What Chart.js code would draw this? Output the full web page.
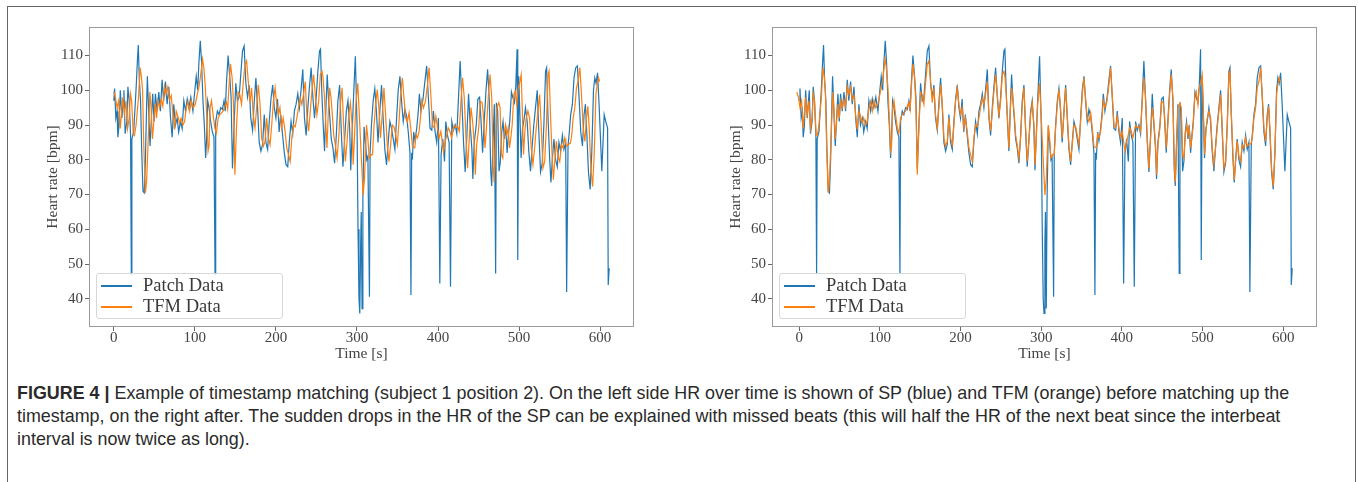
<!DOCTYPE html>
<html>
<head>
<meta charset="utf-8">
<script src="https://cdn.jsdelivr.net/npm/chart.js@4"></script>
<style>
html,body{margin:0;padding:0;background:#fff;width:1358px;height:482px;overflow:hidden;}
#frame{position:absolute;left:7px;top:6px;width:1349px;height:480px;border:1px solid #666;border-bottom:none;box-sizing:border-box;}
.pane{position:absolute;top:0;height:375px;}
.pane canvas{position:absolute;left:0;top:0;}
.legend{position:absolute;top:273px;height:46px;background:rgba(255,255,255,0.8);border:1px solid #d8d8d8;border-radius:3px;box-sizing:border-box;font-family:"Liberation Serif","DejaVu Serif",serif;font-size:18.5px;color:#3a3a3a;}
.legend .item{position:absolute;left:0;height:21px;}
.legend .swatch{position:absolute;left:4px;width:31px;height:1.5px;}
.legend .lbl{position:absolute;left:46px;white-space:nowrap;line-height:21px;top:0;}
#caption{position:absolute;left:17px;top:382px;font-family:"Liberation Sans",Arial,sans-serif;font-size:15px;line-height:23px;color:#2a2a2a;white-space:nowrap;}
#caption b{font-weight:bold;}
</style>
</head>
<body>
<div id="frame"></div>
<div class="pane" id="p1" style="left:0;width:679px;"><canvas id="c1" width="679" height="375"></canvas></div>
<div class="pane" id="p2" style="left:680px;width:678px;"><canvas id="c2" width="678" height="375"></canvas></div>
<div id="caption"><span id="capL1"><b>FIGURE 4 |</b> Example of timestamp matching (subject 1 position 2). On the left side HR over time is shown of SP (blue) and TFM (orange) before matching up the</span><br><span>timestamp, on the right after. The sudden drops in the HR of the SP can be explained with missed beats (this will half the HR of the next beat since the interbeat</span><br><span>interval is now twice as long).</span></div>
<script>
// ---------- DATA ----------
const xTickValues = [0, 100, 200, 300, 400, 500, 600];
const yTickValues = [40, 50, 60, 70, 80, 90, 100, 110];

const patchTime = [
0,1,2.5,4,5,6.5,8,10,11.5,12.5,
14,16,17.4,19,20.7,21.6,22.3,24.5,27.4,29,
30.2,31.5,33,34.5,36,37.5,39,40.5,41.4,43,
44.7,46.4,48,49.7,51.3,53.4,55.5,57.5,59.6,61.5,
63.7,65.8,67.9,70,72,74,76,78.2,80,82.3,
84.3,86.4,88.5,90.6,92.6,95,97.6,100,101.7,103.5,
105,106.7,108.3,110,111.7,113.3,114.5,115.8,117.5,119.5,
121.6,123.6,124.9,125.7,127.8,129.8,131.9,134,136,137.5,
139,141,143,144.7,146.4,148.4,150.5,152.5,154.6,156.5,
158.8,160.8,162.9,165,167,169,171.2,173.2,175.3,177.4,
179.4,181.5,183.6,185.6,187.7,189.8,191.8,193.9,196,198,
200,202,204,206,208.3,210.4,212.5,214.6,216.6,218.7,
220.8,222.8,224.9,227,229,231,233.2,235.2,237.3,239.4,
241.4,243.5,245.6,247.6,249.7,251.8,253.8,255,256.7,258.4,
260,261.7,263.3,265,266.6,268.3,270.3,272.4,274.5,276.5,
278.6,280.7,282.7,284.8,286.9,288.9,291,292.3,293.9,295.6,
298,300.1,301.3,302.5,303.5,304.6,305.3,306.3,307.3,308.8,
310.4,312.1,313.5,315.4,316.2,317.9,320,322,324,326,
328.2,330.3,332.3,334.4,336.5,338.5,340.6,342.7,344.7,346.8,
348.9,350.9,353,355,357.1,359.2,361.3,363.3,365.4,366.6,
367.5,368.3,370,371.6,373.7,375.7,377,379,381.5,384,
386,388.1,390.2,392.3,394.3,396.4,398.4,400.5,402.2,403.8,
405.9,408,409.6,411.7,413.7,415.4,417,419.1,421.2,423.2,
425.3,427.3,429.4,431.5,433.5,435.6,437.7,439.7,441.8,443,
444.7,447.2,449.2,451.3,452.9,455,457,459.2,461.2,463.3,
465,466.2,467.8,469.5,471.1,472,473.6,475.3,476.9,478.6,
480.2,481.9,483.5,485.2,486.8,488.5,490.6,492.2,494.3,495.9,
497.6,498.4,499.6,500.9,502.5,504.2,505.8,507.9,510,512,
514.1,516.2,518.2,520.3,522.4,524.4,526.5,528.6,530.6,532.7,
534,535.6,537.7,539.3,541,543,545.1,547.2,549.2,551.3,
553.4,555.4,557.5,558.7,560.4,562,563.7,565.8,567.8,569.9,
572,574,576.1,578.2,580.2,581.9,583.5,585.6,587.7,589.7,
591.8,593.4,595,596.8,598.8,602.1,605,607,609.2,610,
611.2];

const patchHR = [
97,100.5,92,94,86.5,90,100,92,97,100,
87.5,91,101,97,87,47,86,88,100,108,
113,103,97,82,71,70.5,80,96,104,94,
84,92,99,91,99,94,99.5,94,103,97,
102.5,96,101,92,86.5,96,90,92,88,91,
89,97,94,97.5,95,98,94,100,104,100,
108,114.2,108,97,90,80.5,86,97,95,91,
88,86.5,47,91,94,93,95,94.5,97,94,
102,110,104,98,77.5,90,102,97,98,104,
111.3,112.7,102,98,101.5,92,88.5,96.5,103.5,95,
85,82.5,84.5,93,85,83,91,97.5,101.5,95,
92,97.5,88,93,87,82,78.6,78,85.5,91,
87.5,94,96,99,95,100,106,92,87,95,
101,106.5,98,92,98,105.5,111.3,111.8,99,90,
82.5,95,104.5,97,92,86,83.5,79,87,97,
101.5,88,78,86,94,97,89,77,87,97,
109.8,90,60,40,35.8,56,65,37.2,69,89.5,
85,80,81,40.6,82,90,97,100.5,94,85,
94,101.5,92,83,78.5,85,91,89,86,83,
92,100,104,97,91,94.5,92.5,88,82,41.1,
82,80,88,85.5,89,94,99,94,97.5,103,
107,98,89,88.5,94,88,85,92,44.4,81.5,
86,79.5,91,87,85,43.5,91,88.5,90,87.5,
98,108.4,97,85,76.5,87,99,90,83,74.5,
85,90,97.5,98,92,82,91,100,106,97,
77,72.5,85,96,47.3,96.4,94,76.7,79.5,88,
91,86,90,82,87,91,99.5,98,96.5,101,
111.8,51.2,104,94,80.5,89,91,95,91,82.5,
76.7,84,90,95,100,88,76.5,79,90,105.5,
106.5,93,80.5,73.5,80,86,80,78,85,82.5,
87,83,85,42,84,88,93,96,103.6,106.5,
107,98,88,84,93,96,88,76.5,71.5,82,
100,103.6,102,105,95.5,76.7,93,91,89.2,44,
48.8];

// TFM timestamps before matching (left panel)
const tfmTimeRaw = [
0,2,4,6,8,11,13,15,17,19,
20.5,22,24,25.5,27.5,30.5,32.5,34,35.5,37,
39,40.5,43,44.5,46,47.7,49.4,51,52.7,54.3,
56.4,58.5,60.5,62.6,64.5,66.7,68.8,70.9,73,75,
77,79,81.2,83,85.3,87.3,89.4,91.5,93.6,95.6,
98,100.6,103,105,107,109.5,111.3,113,114.7,116.3,
117.5,118.8,120.5,122.5,124.6,126.6,128.7,130.8,132.8,134.9,
137,139,140.5,142,144,146,147.7,149.4,151.4,153.5,
155.5,157.6,159.5,161.8,163.8,165.9,168,170,172,174.2,
176.2,178.3,180.4,182.4,184.5,186.6,188.6,190.7,192.8,194.8,
196.9,199,201,203,205,207,209,211.3,213.4,215.5,
217.6,219.6,221.7,223.8,225.8,227.9,230,232,234,236.2,
238.2,240.3,242.4,244.4,246.5,248.6,250.6,252.7,254.8,256.8,
258,259.7,261.4,263,264.7,266.3,268,269.6,271.3,273.3,
275.4,277.5,279.5,281.6,283.7,285.7,287.8,289.9,291.9,294,
295.3,296.9,298.6,301,303.1,305.2,307.6,309.3,311.8,313.4,
315.1,317.6,319.2,320.9,323,325,327,329,331.2,333.3,
335.3,337.4,339.5,341.5,343.6,345.7,347.7,349.8,351.9,353.9,
356,358,360.1,362.2,364.3,366.3,368.4,371.3,373,374.6,
376.7,378.7,380,382,384.5,387,389,391.1,393.2,395.3,
397.3,399.4,401.4,403.5,406.8,408.9,411,412.6,414.7,416.7,
420,422.1,424.2,426.2,428.3,430.3,432.4,434.5,436.5,438.6,
440.7,442.7,444.8,446,447.7,450.2,452.2,454.3,455.9,458,
460,462.2,464.2,466.3,468,469.2,470.8,472.5,475,476.6,
478.3,479.9,481.6,483.2,484.9,486.5,488.2,489.8,491.5,493.6,
495.2,497.3,498.9,500.6,502.6,503.9,505.5,507.2,508.8,510.9,
513,515,517.1,519.2,521.2,523.3,525.4,527.4,529.5,531.6,
533.6,535.7,537,538.6,540.7,542.3,544,546,548.1,550.2,
552.2,554.3,556.4,558.4,560.5,563.4,565,566.7,568.8,570.8,
572.9,575,577,579.1,581.2,583.2,584.9,586.5,588.6,590.7,
592.7,594.8,596.4,598,599.5];

// TFM timestamps after matching (right panel)
const tfmTimeMatched = [
-3,-1,1,3,5,8,10,12,14,16,
17.5,19,21,22.5,24.5,27.5,29.5,31,32.5,34,
36,37.5,40,41.5,43,44.7,46.4,48,49.7,51.3,
53.4,55.5,57.5,59.6,61.5,63.7,65.8,67.9,70,72,
74,76,78.2,80,82.3,84.3,86.4,88.5,90.6,92.6,
95,97.6,100,102,104,106.5,108.3,110,111.7,113.3,
114.5,115.8,117.5,119.5,121.6,123.6,125.7,127.8,129.8,131.9,
134,136,137.5,139,141,143,144.7,146.4,148.4,150.5,
152.5,154.6,156.5,158.8,160.8,162.9,165,167,169,171.2,
173.2,175.3,177.4,179.4,181.5,183.6,185.6,187.7,189.8,191.8,
193.9,196,198,200,202,204,206,208.3,210.4,212.5,
214.6,216.6,218.7,220.8,222.8,224.9,227,229,231,233.2,
235.2,237.3,239.4,241.4,243.5,245.6,247.6,249.7,251.8,253.8,
255,256.7,258.4,260,261.7,263.3,265,266.6,268.3,270.3,
272.4,274.5,276.5,278.6,280.7,282.7,284.8,286.9,288.9,291,
292.3,293.9,295.6,298,300.1,302.2,304.6,306.3,308.8,310.4,
312.1,314.6,316.2,317.9,320,322,324,326,328.2,330.3,
332.3,334.4,336.5,338.5,340.6,342.7,344.7,346.8,348.9,350.9,
353,355,357.1,359.2,361.3,363.3,365.4,368.3,370,371.6,
373.7,375.7,377,379,381.5,384,386,388.1,390.2,392.3,
394.3,396.4,398.4,400.5,403.8,405.9,408,409.6,411.7,413.7,
417,419.1,421.2,423.2,425.3,427.3,429.4,431.5,433.5,435.6,
437.7,439.7,441.8,443,444.7,447.2,449.2,451.3,452.9,455,
457,459.2,461.2,463.3,465,466.2,467.8,469.5,472,473.6,
475.3,476.9,478.6,480.2,481.9,483.5,485.2,486.8,488.5,490.6,
492.2,494.3,495.9,497.6,499.6,500.9,502.5,504.2,505.8,507.9,
510,512,514.1,516.2,518.2,520.3,522.4,524.4,526.5,528.6,
530.6,532.7,534,535.6,537.7,539.3,541,543,545.1,547.2,
549.2,551.3,553.4,555.4,557.5,560.4,562,563.7,565.8,567.8,
569.9,572,574,576.1,578.2,580.2,581.9,583.5,585.6,587.7,
589.7,591.8,593.4,595,596.5];

const tfmHR = [
99.5,98,95,97,89,98,93,97,89,92,
99,97,87.5,87,90,98,106.5,104,100,84,
70.5,74,89,99.5,95,86,91,96,92,97,
95,97.3,95.4,101,98.8,101,97.3,98.5,93,88.7,
94,92.5,90.6,92,90,91,95,96.8,94,97,
95,96,98.8,101,104,109,106,100.7,92,82.5,
84,95,97,93,89.2,87.7,92,93,93.5,94,
95.4,96.5,94.5,100.7,107.5,103.6,96,75.7,89.2,99.5,
98.8,96,101.6,107.5,108.5,102.6,96.4,100.7,93,89.2,
95,101.6,96,86.3,83.9,85.3,92,86.3,84.3,90,
96.8,100.7,96,93,95,89.2,92,88.2,83.4,81.5,
79.5,86.3,90,89.5,92,95,97.8,95.9,98.8,102.5,
93,88.2,94,99.7,104.5,98.8,93,96.8,104.5,105.5,
104,98.8,91,83.4,94,100.7,97.8,93,87.2,84.3,
80.5,86.3,95.9,100.7,89.2,79.5,85.3,93,96.4,90,
78.6,86.3,95.9,102,92,81.5,69.9,74.5,90,86.3,
80.5,81.5,81.5,89.2,95.9,100.2,95,86.3,93,100.7,
93,84.3,79.5,84.3,90,89.5,87.2,84.3,91,98.8,
103.6,97.8,92,91,93.5,89.2,83.9,83.4,87.2,86.3,
88.2,93,97,94.9,96.8,101.6,106.5,98.8,90,89.2,
92.5,89.2,86.3,88.2,82.4,85.3,87.2,89.2,88.2,86.3,
90,89.2,89.6,88.2,97,103.6,97.8,86.3,77.6,86.3,
95,91,84.3,75.7,84.3,89.2,96.8,96.5,93,83.4,
90,98.8,104.5,97.8,78.6,73.5,84.3,95,96.4,95,
81.5,80.5,87.2,90,87.2,89.2,83.4,86.3,90,98.8,
99.7,95.9,100.7,102,104.5,95,81.5,88.2,92,94,
92,83.4,78.6,83.4,89.2,94,98.8,89.2,77.6,79.5,
89.2,104.5,105.5,94,81.5,74.3,79.5,85.3,81,79.5,
84.3,83.4,86.3,83.9,84.3,84.8,87.2,92,95,100.7,
102.6,106.5,98.8,89.2,85.3,92,95.4,89.2,77.6,72.3,
81.5,98.8,101.6,103.6,102.5];

const seriesLabels = ['Patch Data', 'TFM Data'];
const seriesColors = ['#1f77b4', '#ff7f0e'];
const axisTitles = { x: 'Time [s]', y: 'Heart rate [bpm]' };

// ---------- CHART ----------
function pts(xs, ys) { return xs.map((x, i) => ({ x: x, y: ys[i] })); }

const frameAround = {
  id: 'frameAround',
  afterDatasetsDraw(chart) {
    const a = chart.chartArea, c = chart.ctx;
    c.save();
    c.strokeStyle = '#9a9a9a';
    c.lineWidth = 1;
    c.strokeRect(Math.round(a.left) + 0.5, Math.round(a.top) + 0.5, Math.round(a.right - a.left) - 1, Math.round(a.bottom - a.top) - 1);
    c.restore();
  }
};

const tickFont = { family: '"Liberation Serif","DejaVu Serif",serif', size: 15 };
const titleFont = { family: '"Liberation Serif","DejaVu Serif",serif', size: 15.5 };

function makeChart(canvasId, tfmTimes, cfg) {
  return new Chart(document.getElementById(canvasId), {
    type: 'line',
    data: {
      datasets: [
        { label: seriesLabels[0], data: pts(patchTime, patchHR), borderColor: seriesColors[0], backgroundColor: seriesColors[0], borderWidth: 1.2, pointRadius: 0, tension: 0, order: 2 },
        { label: seriesLabels[1], data: pts(tfmTimes, tfmHR), borderColor: seriesColors[1], backgroundColor: seriesColors[1], borderWidth: 1.2, pointRadius: 0, tension: 0, order: 1 }
      ]
    },
    options: {
      responsive: false,
      animation: false,
      devicePixelRatio: 1,
      layout: { padding: { top: 27, right: cfg.padRight, bottom: 0, left: 0 } },
      plugins: { legend: { display: false }, tooltip: { enabled: false } },
      scales: {
        x: {
          type: 'linear', min: cfg.xMin, max: cfg.xMax,
          afterBuildTicks: s => { s.ticks = xTickValues.map(v => ({ value: v })); },
          afterFit: s => { s.height = 48; },
          ticks: { color: '#444', font: tickFont, padding: -2, maxRotation: 0, autoSkip: false, callback: v => String(v) },
          grid: { display: true, drawOnChartArea: false, drawTicks: true, tickLength: 4, color: '#666', lineWidth: 1 },
          border: { display: false },
          title: { display: true, text: axisTitles.x, color: '#444', font: titleFont, padding: { top: 0, bottom: 12 } }
        },
        y: {
          type: 'linear', min: 31.9, max: 118.2,
          afterBuildTicks: s => { s.ticks = yTickValues.map(v => ({ value: v })); },
          afterFit: s => { s.width = cfg.yWidth; },
          ticks: { color: '#444', font: tickFont, padding: 2, autoSkip: false, callback: v => String(v) },
          grid: { display: true, drawOnChartArea: false, drawTicks: true, tickLength: 4, color: '#666', lineWidth: 1 },
          border: { display: false },
          title: { display: true, text: axisTitles.y, color: '#444', font: titleFont, padding: { top: cfg.titlePad, bottom: 0 } }
        }
      }
    },
    plugins: [frameAround]
  });
}

function addLegend(chart, paneId) {
  const pane = document.getElementById(paneId);
  const a = chart.chartArea;
  const box = document.createElement('div');
  box.className = 'legend';
  box.style.left = (a.left + 7) + 'px';
  box.style.width = '187px';
  chart.data.datasets.forEach((ds, i) => {
    const it = document.createElement('div');
    it.className = 'item';
    it.style.top = (1 + i * 21) + 'px';
    const sw = document.createElement('div');
    sw.className = 'swatch';
    sw.style.background = ds.borderColor;
    sw.style.top = '10px';
    const lb = document.createElement('div');
    lb.className = 'lbl';
    lb.textContent = ds.label;
    it.appendChild(sw); it.appendChild(lb);
    box.appendChild(it);
  });
  pane.appendChild(box);
}

const chartBefore = makeChart('c1', tfmTimeRaw, { xMin: -30.6, xMax: 641.8, padRight: 45, yWidth: 89, titlePad: 44 });
const chartAfter = makeChart('c2', tfmTimeMatched, { xMin: -33.7, xMax: 641.9, padRight: 41, yWidth: 92, titlePad: 47 });
addLegend(chartBefore, 'p1');
addLegend(chartAfter, 'p2');

// fit caption so the first line spans the same width as in the figure
function fitCaption() {
  const cap = document.getElementById('caption');
  cap.style.fontSize = '15px';
  const w = document.getElementById('capL1').getBoundingClientRect().width;
  if (w > 0) cap.style.fontSize = (15 * 1273 / w).toFixed(2) + 'px';
}
fitCaption();
if (document.fonts && document.fonts.ready) document.fonts.ready.then(fitCaption);
</script>
</body>
</html>
